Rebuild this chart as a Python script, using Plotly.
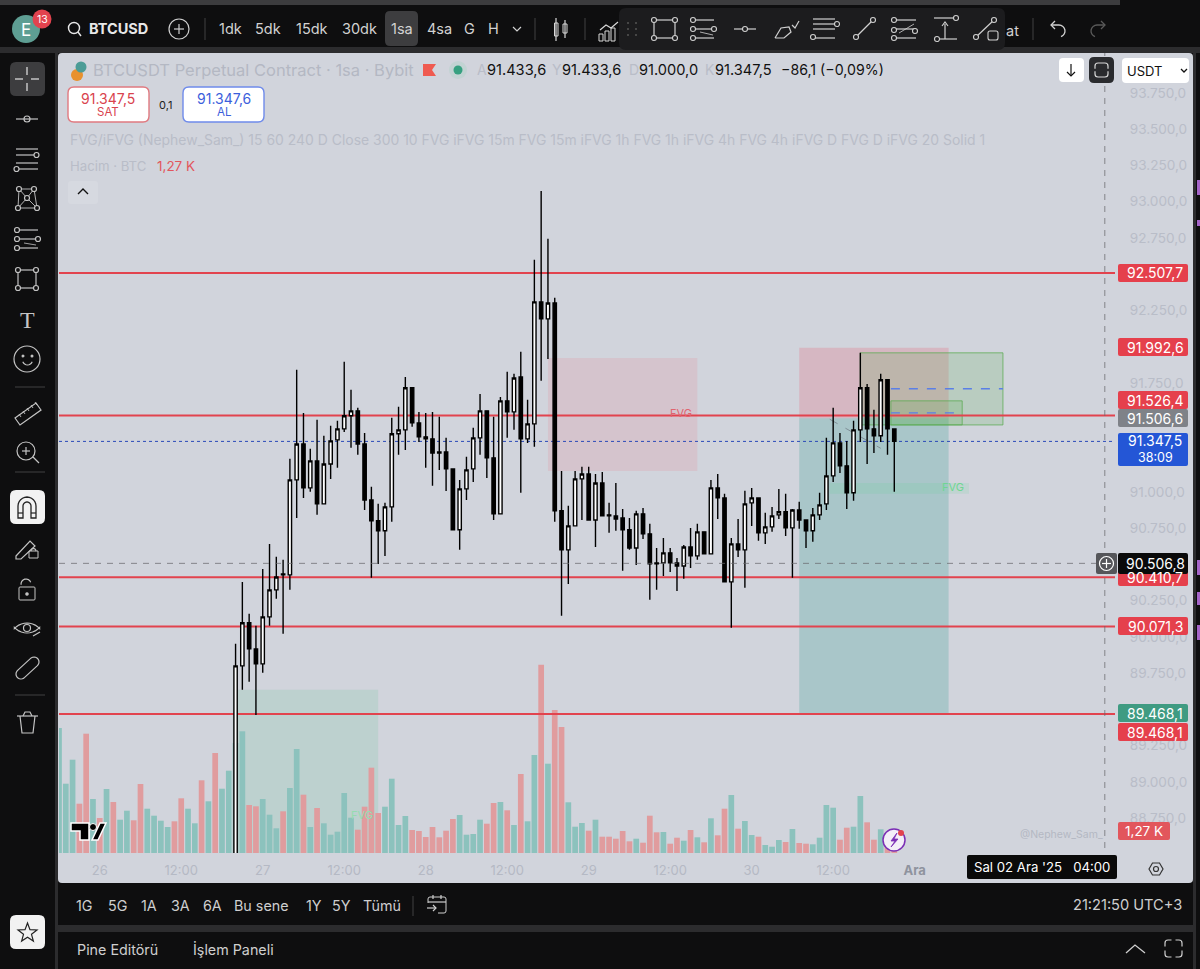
import math
import pandas as pd
import plotly.graph_objects as go

W = 1200
H = 969
BASE = pd.Timestamp("2025-11-26 00:00")

# hourly candles, first one is 26 Nov 20:00
candle_open = [
    88200, 89800, 90097, 89917, 89814, 90138, 90324, 90434, 90427, 91082,
    91330, 91027, 91213, 90917, 91192, 91358, 91434, 91524, 91558, 91330,
    90944, 90800, 90731, 90896, 91400, 91427, 91717, 91475, 91379, 91365,
    91275, 91275, 91158, 90738, 91020, 91158, 91372, 91558, 91234, 90848,
    91627, 91551, 91792, 91365, 91468, 92309, 92192, 92302, 90869, 90600,
    90765, 91089, 91123, 90806, 91061, 90841, 90834, 90820, 90738, 90613,
    90848, 90710, 90510, 90510, 90579, 90510, 90489, 90620, 90558, 90724,
    90572, 91027, 90958, 90379, 90641, 90600, 90924, 90958, 90717, 90758,
    90841, 90862, 90751, 90875, 90806, 90731, 90841, 90917, 91110, 91337,
    91179, 90993, 91427, 91717, 91434, 91386, 91772, 91433.6,
]
candle_high = [
    89952, 90379, 90159, 90076, 90468, 90641, 90552, 90531, 91227, 91841,
    91544, 91296, 91496, 91386, 91455, 91489, 91896, 91703, 91579, 91406,
    91034, 90917, 90924, 91510, 91586, 91792, 91717, 91551, 91544, 91551,
    91517, 91372, 91158, 91082, 91241, 91441, 91675, 91558, 91517, 91654,
    91827, 91813, 91965, 91634, 92599, 93074, 92744, 92337, 91144, 90903,
    91144, 91172, 91172, 91123, 91137, 90924, 91061, 90882, 90820, 90869,
    90889, 90779, 90613, 90682, 90613, 90544, 90634, 90751, 90779, 90724,
    91082, 91123, 90986, 90682, 90813, 91007, 91027, 90958, 90855, 90896,
    91020, 90986, 90882, 90931, 90806, 90889, 90993, 91372, 91579, 91406,
    91351, 91489, 91958, 91744, 91565, 91813, 91772, 91433.6,
]
candle_low = [
    88100, 89635, 89690, 89462, 89752, 90076, 90262, 90021, 90324, 90820,
    90958, 91000, 90841, 90917, 91089, 91165, 91413, 91303, 91255, 90875,
    90407, 90503, 90558, 90793, 91255, 91289, 91448, 91344, 91165, 91041,
    91151, 91006, 90738, 90600, 90944, 91068, 91255, 91096, 90806, 90848,
    91372, 91427, 90993, 91337, 91310, 91765, 91916, 90793, 90145, 90365,
    90765, 90806, 90806, 90620, 90834, 90717, 90731, 90455, 90600, 90496,
    90675, 90255, 90324, 90420, 90448, 90317, 90400, 90475, 90531, 90572,
    90572, 90813, 90379, 90062, 90551, 90338, 90765, 90662, 90641, 90724,
    90813, 90696, 90407, 90745, 90613, 90655, 90806, 90875, 91068, 91130,
    90882, 90938, 91344, 91192, 91268, 91344, 91255, 91000.0,
]
candle_close = [
    89800, 90097, 89917, 89814, 90138, 90324, 90413, 90427, 91082, 91330,
    91027, 91213, 90917, 91192, 91351, 91434, 91524, 91558, 91330, 90944,
    90800, 90731, 90896, 91400, 91427, 91717, 91475, 91379, 91365, 91268,
    91268, 91158, 90738, 91020, 91151, 91372, 91558, 91234, 90848, 91627,
    91551, 91785, 91365, 91468, 92309, 92192, 92302, 90869, 90600, 90765,
    91089, 91123, 90806, 91061, 90834, 90834, 90813, 90738, 90613, 90848,
    90710, 90503, 90503, 90579, 90510, 90489, 90620, 90558, 90724, 90572,
    91027, 90958, 90379, 90641, 90600, 90917, 90958, 90717, 90758, 90834,
    90862, 90751, 90875, 90806, 90731, 90841, 90910, 91110, 91337, 91179,
    90993, 91427, 91717, 91434, 91386, 91772, 91433.6, 91347.5,
]

# volume starts 6 hours before the 26th, bars before the first candle have their own direction
volume_btc = [
    12500, 6930, 9330, 4930, 11930, 5400, 3500, 6400, 5100, 3330,
    4230, 3270, 6900, 4430, 3730, 3230, 2600, 3170, 5470, 4430,
    2970, 7270, 5170, 10000, 6430, 8230, 11000, 12170, 4800, 4670,
    5400, 3830, 2470, 4170, 6500, 10400, 5830, 2600, 4500, 2970,
    1830, 2130, 6000, 3530, 2330, 4630, 8530, 4000, 4630, 7430,
    2800, 3700, 2300, 2200, 1600, 2600, 1570, 2230, 3400, 3800,
    1830, 1900, 3330, 2930, 5000, 5100, 4270, 2800, 7900, 3170,
    9800, 18830, 8930, 14300, 12600, 5070, 2630, 3000, 2230, 3330,
    1630, 1630, 1430, 2200, 1170, 1430, 1030, 3730, 2070, 2100,
    930, 1530, 1230, 2300, 1570, 1070, 3470, 1770, 4430, 5800,
    2430, 3200, 1800, 1630, 800, 630, 1300, 1100, 2400, 1000,
    930, 870, 1530, 4800, 4530, 1330, 2530, 2630, 5700, 3070,
    1330, 2370, 1800, 1270,
]
early_volume_up = [
    1, 1, 1, 0, 0, 1, 0, 1, 0, 1, 1, 0, 0,
    1, 1, 1, 1, 0, 0, 1, 1, 0, 1, 0, 1, 1,
]

level_prices = [92507.7, 91526.4, 90410.7, 90071.3, 89468.1]
last_price = 91347.5
cross_price = 90506.8
# the other round prices sit fully behind the coloured tags
price_ticks = [
    93750, 93500, 93250, 93000, 92750, 92250, 91750,
    91000, 90750, 90250, 90000, 89750, 89500, 89250, 89000, 88750,
]
time_tick_hours = [0, 12, 24, 36, 48, 60, 72, 84, 96, 108, 120]
time_tick_text = ["26", "12:00", "27", "12:00", "28", "12:00", "29", "12:00", "30", "12:00",
                  "<span style='color:#8f939e'><b>Ara</b></span>"]


def t(hour):
    return BASE + pd.Timedelta(hours=hour)


def tr_price(p):
    return f"{p:,.1f}".replace(",", "#").replace(".", ",").replace("#", ".")


def px(x):
    return x / W


def py(y):
    return 1 - y / H


shapes = []
notes = []


def rect(x0, y0, x1, y1, fill, line=None, lw=1, r=0, layer="above"):
    if r:
        a, b, c, d = px(x0), px(x1), py(y0), py(y1)
        rx, ry = r / W, r / H
        path = (f"M {a+rx} {c} L {b-rx} {c} Q {b} {c} {b} {c-ry} L {b} {d+ry} Q {b} {d} {b-rx} {d} "
                f"L {a+rx} {d} Q {a} {d} {a} {d+ry} L {a} {c-ry} Q {a} {c} {a+rx} {c} Z")
        shapes.append(dict(type="path", path=path, xref="paper", yref="paper", fillcolor=fill, layer=layer,
                           line=dict(color=line or "rgba(0,0,0,0)", width=lw if line else 0)))
    else:
        shapes.append(dict(type="rect", x0=px(x0), x1=px(x1), y0=py(y0), y1=py(y1), xref="paper", yref="paper",
                           fillcolor=fill, layer=layer,
                           line=dict(color=line or "rgba(0,0,0,0)", width=lw if line else 0)))


def seg(x0, y0, x1, y1, color="#c4c4c4", lw=1.2):
    shapes.append(dict(type="line", x0=px(x0), x1=px(x1), y0=py(y0), y1=py(y1), xref="paper", yref="paper",
                       line=dict(color=color, width=lw)))


def ring(cx, cy, r, color="#c4c4c4", lw=1.2, fill="rgba(0,0,0,0)"):
    shapes.append(dict(type="circle", x0=px(cx - r), x1=px(cx + r), y0=py(cy - r), y1=py(cy + r),
                       xref="paper", yref="paper", fillcolor=fill, line=dict(color=color, width=lw)))


def poly(points, color="#c4c4c4", lw=1.2, fill="rgba(0,0,0,0)", closed=False):
    path = "M " + " L ".join(f"{px(x)} {py(y)}" for x, y in points)
    if closed:
        path += " Z"
    shapes.append(dict(type="path", path=path, xref="paper", yref="paper", fillcolor=fill,
                       line=dict(color=color, width=lw)))


def arc(cx, cy, r, a0, a1, n=12):
    return [(cx + r * math.cos(math.radians(a0 + (a1 - a0) * i / n)),
             cy + r * math.sin(math.radians(a0 + (a1 - a0) * i / n))) for i in range(n + 1)]


def label(x, y, text, size=13, color="#ffffff", anchor="center", family="Inter"):
    notes.append(dict(x=px(x), y=py(y), xref="paper", yref="paper", text=text, showarrow=False,
                      xanchor=anchor, yanchor="middle", font=dict(size=size, color=color, family=family),
                      borderpad=0))


# ---- window frame
DARK = "#0e0e0f"
GAP = "#2c2c2e"
PANEL = "#d1d4dc"
rect(0, 0, 1200, 969, DARK, layer="below")
rect(0, 0, 1120, 5, "#3c3c3e", layer="below")
rect(0, 47, 1200, 53, GAP, layer="below")
rect(55, 47, 58, 969, GAP, layer="below")
rect(58, 925, 1193, 932, GAP, layer="below")
rect(1193, 53, 1196, 969, GAP, layer="below")
rect(58, 53, 1193, 883, PANEL, r=4, layer="below")
for y0, y1 in [(180, 195), (220, 226), (560, 575), (592, 605), (625, 640)]:
    rect(1197, y0, 1200, y1, "#a564c8", layer="below")

# ---- drawings on the chart, in time and price
DRAWINGS = [
    (66, 88, 91923, 91144, "rgba(232,130,145,0.19)", None),
    (103, 125, 91992.6, 91506.6, "rgba(236,70,90,0.20)", None),
    (103, 125, 91506.6, 89468.1, "rgba(0,137,123,0.19)", None),
    (112, 133, 91958, 91461, "rgba(90,175,80,0.20)", "rgba(90,170,80,0.75)"),
    (116.5, 127, 91627, 91461, "rgba(90,175,80,0.20)", "rgba(90,170,80,0.75)"),
    (107.5, 128, 91061, 90986, "rgba(70,210,130,0.12)", None),
    (19.6, 41, 89635, 88510, "rgba(70,190,130,0.14)", None),
]
for h0, h1, p0, p1, fill, edge in DRAWINGS:
    shapes.append(dict(type="rect", xref="x", yref="y3", x0=t(h0), x1=t(h1), y0=p0, y1=p1, fillcolor=fill,
                       layer="below", line=dict(color=edge or "rgba(0,0,0,0)", width=1 if edge else 0)))
for h0, h1, p in [(116.5, 133, 91710), (116.5, 126.5, 91544)]:
    shapes.append(dict(type="line", xref="x", yref="y3", x0=t(h0), x1=t(h1), y0=p, y1=p, layer="below",
                       line=dict(color="#5b7fe6", width=1.4, dash="dash")))
shapes.append(dict(type="line", xref="x", yref="y3", x0=t(107.5), x1=t(115), y0=91500, y1=91300, layer="below",
                   line=dict(color="rgba(110,120,130,0.7)", width=1, dash="dash")))

fig = go.Figure()

# volume goes on the lowest subplot so levels and candles sit above it
volume_up = early_volume_up + [int(c >= o) for o, c in zip(candle_open, candle_close)]
volume_times = pd.date_range(t(-6), periods=len(volume_btc), freq="h")
fig.add_trace(go.Bar(
    x=volume_times, y=volume_btc, yaxis="y", width=0.84 * 3600000, hoverinfo="skip",
    marker=dict(color=["#8cc2bd" if u else "#e09c9e" for u in volume_up], line=dict(width=0)),
))

# levels
edge_times = [t(-6), t(149.5)]
for p in level_prices:
    fig.add_trace(go.Scatter(x=edge_times, y=[p, p], yaxis="y2", mode="lines", hoverinfo="skip",
                             line=dict(color="#e2434e", width=2)))
fig.add_trace(go.Scatter(x=edge_times, y=[last_price, last_price], yaxis="y2", mode="lines", hoverinfo="skip",
                         line=dict(color="#2a49b8", width=1, dash="dot")))

candle_times = pd.date_range(t(20), periods=len(candle_open), freq="h")
fig.add_trace(go.Candlestick(
    x=candle_times, open=candle_open, high=candle_high, low=candle_low, close=candle_close,
    yaxis="y3", whiskerwidth=0, hoverinfo="skip",
    increasing=dict(line=dict(color="#000000", width=1.4), fillcolor="#ffffff"),
    decreasing=dict(line=dict(color="#000000", width=1.4), fillcolor="#000000"),
))

# crosshair
shapes.append(dict(type="line", xref="x", yref="y3", x0=edge_times[0], x1=edge_times[1], y0=cross_price,
                   y1=cross_price, line=dict(color="rgba(105,105,110,0.75)", width=1, dash="6px,6px")))
shapes.append(dict(type="line", xref="x", yref="paper", x0=t(148), x1=t(148), y0=py(848), y1=py(53),
                   line=dict(color="rgba(105,105,110,0.75)", width=1, dash="6px,6px")))

# FVG labels
label(681, 413, "FVG", 11, "#e0646f")
label(953, 487, "FVG", 11, "#6fd692")
label(362, 815, "FVG", 11, "#95dcb0")

# ---- price tags on the axis
TAGS = [
    (273, "92.507,7", "#e5404c"), (347, "91.992,6", "#e5404c"), (400, "91.526,4", "#e5404c"),
    (418, "91.506,6", "#7f8288"), (577, "90.410,7", "#e5404c"), (626, "90.071,3", "#e5404c"),
    (713, "89.468,1", "#3f9b82"), (732, "89.468,1", "#e5404c"),
]
for y, text, color in TAGS:
    rect(1118, y - 9, 1188, y + 9, color, r=2)
    label(1155, y, text, 14)
rect(1118, 433, 1188, 466, "#2456d6", r=2)
label(1155, 441, tr_price(last_price), 14)
label(1155, 457, "38:09", 12.5)
rect(1118, 553, 1188, 574, "#0a0a0a", r=2)
label(1155, 563.5, tr_price(cross_price), 14)
rect(1096, 553, 1117, 574, "#55565a", r=2)
ring(1106.5, 563.5, 7, "#ffffff")
seg(1102, 563.5, 1111, 563.5, "#ffffff")
seg(1106.5, 559, 1106.5, 568, "#ffffff")
rect(1118, 822, 1170, 840, "#e2565c", r=2)
label(1144, 831, "1,27 K", 13.5)
label(1061, 834, "@Nephew_Sam_", 10.5, "#b4b8c3")
rect(967, 855, 1117, 879, "#0a0a0a", r=2)
label(1042, 867, "Sal 02 Ara '25&nbsp;&nbsp;&nbsp;04:00", 13.2)

# gear under the axis
poly([(1149, 869), (1152.5, 863), (1159.5, 863), (1163, 869), (1159.5, 875), (1152.5, 875)], "#333333", closed=True)
ring(1156, 869, 2.5, "#333333")

# TradingView logo
logo = [[(71, 823), (89, 823), (89, 840), (80, 840), (80, 831), (71, 831)],
        [(92, 840), (100, 823), (106, 823), (98, 840)]]
for pts in logo:
    poly(pts, "#ffffff", 1.5, "#000000", closed=True)
ring(93, 827, 3.5, "#ffffff", 1, "#000000")

# lightning badge
ring(894, 840, 11, "#7b2fb5", 1.5, "#f3eef8")
poly([(897, 833), (891, 841), (895, 841), (891, 847), (898, 839), (894, 839)], "#7b2fb5", 0.8, "#7b2fb5", closed=True)
ring(901, 833, 3, "#e2434e", 0, "#e2434e")

# ---- legend block
label(92, 70, "BTCUSDT Perpetual Contract · 1sa · Bybit", 16.5, "#b4b8c3", "left")
ring(77, 75, 6, "#e8912d", 0, "#e8912d")
ring(81, 67, 5.5, "#4c9c96", 0, "#4c9c96")
poly([(423, 64), (436, 64), (432, 70), (436, 76), (423, 76)], "#ef5a50", 0, "#ef5a50", closed=True)
ring(458, 70, 9, "#c2d3d3", 0, "#c2d3d3")
ring(458, 70, 4.5, "#36a080", 0, "#36a080")
for x, letter, value_x, value in [(476, "A", 486, "91.433,6"), (551, "Y", 561, "91.433,6"),
                                  (628, "D", 638, "91.000,0"), (704, "K", 714, "91.347,5")]:
    label(x, 70, letter, 14, "#b9bdc8", "left")
    label(value_x, 70, value, 14.6, "#111111", "left")
label(780, 70, "−86,1 (−0,09%)", 14.2, "#111111", "left")

rect(68, 87, 149, 122, "#ffffff", "#e07a80", 1.4, r=6)
label(108, 98, "91.347,5", 14, "#d9434e")
label(108, 112, "SAT", 11.5, "#d9434e")
label(165, 105, "0,1", 11, "#222222")
rect(183, 87, 264, 122, "#ffffff", "#6f8bea", 1.4, r=6)
label(224, 98, "91.347,6", 14, "#3c5fdc")
label(224, 112, "AL", 11.5, "#3c5fdc")
label(69, 140, "FVG/iFVG (Nephew_Sam_) 15 60 240 D Close 300 10 FVG iFVG 15m FVG 15m iFVG 1h FVG 1h iFVG "
               "4h FVG 4h iFVG D FVG D iFVG 20 Solid 1", 13.95, "#b9bdc8", "left")
label(69, 166, "Hacim · BTC", 13.2, "#b9bdc8", "left")
label(156, 166, "1,27 K", 13.5, "#e2565c", "left")
rect(68, 181, 98, 204, "rgba(255,255,255,0.12)", r=3)
poly([(78, 194), (83, 189), (88, 194)], "#111111", 1.4)

# buttons top right of the chart
rect(1059, 58, 1084, 82, "#ffffff", r=4)
seg(1071, 64, 1071, 76, "#111111")
poly([(1067, 72), (1071, 76), (1075, 72)], "#111111")
rect(1089, 57, 1114, 83, "#2a2b2e", r=5)
rect(1095, 63, 1108, 77, "rgba(0,0,0,0)", "#d8d8d8", 1.2, r=3)
seg(1093, 70, 1110, 70, "#2a2b2e", 2.5)
rect(1122, 58, 1189, 83, "#ffffff", r=4)
label(1126, 71, "USDT", 13, "#111111", "left")
poly([(1181, 69), (1184, 72), (1187, 69)], "#111111", 1.3)

# ---- top bar
ring(26, 29, 14, "#5e9e93", 0, "#5e9e93")
label(26, 30, "E", 17, "#ffffff")
ring(42, 19, 9.5, "#e2434e", 0, "#e2434e")
label(42, 19, "13", 10.5, "#ffffff")
ring(74, 28, 5.5, "#e8e8e8", 1.4)
seg(78, 32, 81, 36, "#e8e8e8", 1.4)
label(88, 29, "<b>BTCUSD</b>", 14.5, "#e8e8e8", "left")
ring(179, 29, 10, "#cfcfcf")
seg(174, 29, 184, 29, "#cfcfcf")
seg(179, 24, 179, 34, "#cfcfcf")
seg(205, 18, 205, 40, "#3a3a3a")
rect(385, 11, 418, 46, "#3d3d3f", r=5)
for x, text in [(230, "1dk"), (268, "5dk"), (312, "15dk"), (359, "30dk"), (402, "1sa"), (439, "4sa"),
                (469, "G"), (493, "H")]:
    label(x, 29, text, 14.5, "#d2d2d2")
poly([(513, 27), (517, 31), (521, 27)], "#d2d2d2")
seg(535, 18, 535, 40, "#3a3a3a")
rect(554.5, 23, 558, 36, "rgba(0,0,0,0)", "#d8d8d8")
seg(556, 18, 556, 41, "#d8d8d8")
rect(563, 24, 567, 33, "rgba(0,0,0,0)", "#d8d8d8")
seg(565, 20, 565, 38, "#d8d8d8")
seg(585, 18, 585, 40, "#3a3a3a")
poly([(600, 30), (606, 25), (611, 28), (618, 22)], "#d8d8d8")
for x, y in [(601, 34), (607, 31), (613, 28)]:
    rect(x - 2, y, x + 2, 41, "rgba(0,0,0,0)", "#d8d8d8")
label(1005, 30, "at", 14.5, "#d2d2d2", "left")
seg(1033, 18, 1033, 40, "#3a3a3a")
# undo and redo
poly([(1051, 25)] + arc(1059, 31, 6, -90, 70, 8), "#d2d2d2", 1.3)
poly([(1055, 21), (1051, 25), (1055, 29)], "#d2d2d2", 1.3)
poly(arc(1097, 31, 6, 110, 270, 8) + [(1105, 25)], "#5a5a5a", 1.3)
poly([(1101, 21), (1105, 25), (1101, 29)], "#5a5a5a", 1.3)

# floating drawing toolbar
rect(619, 8, 1005, 50, "#1c1c1e", r=7)
for x in (628, 636):
    for y in (23, 29, 35):
        ring(x, y, 1, "#555555", 0, "#555555")
IC = "#d0d0d0"


def knobs(points):
    for x, y in points:
        ring(x, y, 2.5, IC, 1.1, "#1c1c1e")


seg(654, 20, 654, 38, IC)
seg(675, 20, 675, 38, IC)
seg(654, 20, 675, 20, IC)
seg(654, 38, 675, 38, IC)
knobs([(654, 20), (675, 20), (654, 38), (675, 38)])
for y in (20, 29, 38):
    seg(693, y, 714, y, IC)
seg(700, 32, 713, 35, IC, 0.8)
knobs([(693, 20), (714, 29), (693, 38), (693, 29)])
seg(734, 29, 756, 29, IC)
knobs([(745, 29)])
poly([(775, 38), (781, 28), (789, 27), (791, 32), (784, 38), (775, 38)], IC)
poly([(792, 25), (795, 28), (799, 21)], IC)
for y in (19, 29, 38):
    seg(813, y, 835, y, IC)
seg(813, 24, 835, 24, IC)
knobs([(837, 24), (813, 37)])
seg(856, 37, 873, 20, IC)
knobs([(856, 37), (873, 20)])
for y in (20, 29, 38):
    seg(893, y, 916, y, IC)
seg(899, 33, 914, 24, IC, 0.8)
knobs([(894, 20), (915, 31), (894, 38), (894, 30)])
seg(934, 18, 956, 18, IC)
seg(937, 39, 957, 39, IC)
seg(945, 24, 945, 39, IC)
poly([(942, 26), (945, 22), (948, 26)], IC)
knobs([(956, 18), (937, 39)])
seg(976, 37, 994, 20, IC)
knobs([(976, 37), (994, 20)])
rect(988, 31, 998, 40, "#1c1c1e", IC, 1.1, r=2)

# ---- left toolbar
rect(10, 62, 45, 96, "#3d3d3f", r=6)
seg(15, 79, 23, 79, "#e6e6e6")
seg(31, 79, 39, 79, "#e6e6e6")
seg(27, 67, 27, 75, "#e6e6e6")
seg(27, 83, 27, 91, "#e6e6e6")
seg(16, 119, 38, 119)
ring(27, 119, 3)
for y, a, b in [(149, 16, 38), (155, 16, 34), (163, 16, 38), (169, 19, 38)]:
    seg(a, y, b, y)
ring(36.5, 155, 2.5, fill=DARK)
ring(16.5, 169, 2.5, fill=DARK)
net = [(19, 189), (34, 189), (27, 198), (18, 208), (37, 208)]
for a, b in [(0, 3), (0, 2), (1, 2), (1, 4), (2, 3), (2, 4), (3, 4), (0, 1)]:
    seg(*net[a], *net[b], lw=0.9)
for x, y in net:
    ring(x, y, 2.5, fill=DARK)
for y in (230, 239, 248):
    seg(17, y, 38, y)
seg(24, 243, 36, 245, lw=0.8)
for x, y in [(17, 230), (38, 239), (17, 248), (17, 239)]:
    ring(x, y, 2.5, fill=DARK)
for a, b in [((18, 270), (36, 270)), ((36, 270), (36, 288)), ((36, 288), (18, 288)), ((18, 288), (18, 270))]:
    seg(*a, *b)
for x, y in [(18, 270), (36, 270), (18, 288), (36, 288)]:
    ring(x, y, 2.5, fill=DARK)
label(27, 320, "T", 24, "#c4c4c4", family="Liberation Serif")
ring(27, 359, 13)
ring(23, 356, 0.9, fill="#c4c4c4")
ring(32, 356, 0.9, fill="#c4c4c4")
poly(arc(27.5, 360, 5, 20, 160, 8))
seg(15, 387, 45, 387, "#3a3a3a")
poly([(15, 418), (36, 403), (41, 410), (20, 425)], closed=True)
for i in range(5):
    seg(19 + 4 * i, 414 - 3 * i, 21 + 4 * i, 417 - 3 * i, lw=0.9)
ring(26, 451, 9)
seg(22, 451, 30, 451)
seg(26, 447, 26, 455)
seg(33, 457, 39, 463)
seg(15, 472, 45, 472, "#3a3a3a")
rect(10, 490, 45, 524, "#f2f2f2", r=6)
poly(arc(27, 506, 9, 180, 360) + [(36, 518), (31, 518)] + arc(27, 506, 4, 360, 180) + [(23, 518), (18, 518)],
     "#222222", 1.3, closed=True)
seg(18, 513, 23, 513, "#222222")
seg(31, 513, 36, 513, "#222222")
poly([(16, 556), (30, 541), (35, 546), (21, 559), (16, 559)], closed=True)
rect(29, 551, 38, 558, "rgba(0,0,0,0)", "#c4c4c4")
poly(arc(33.5, 551, 2.5, 180, 360, 6))
rect(19, 587, 35, 600, "rgba(0,0,0,0)", "#c4c4c4", r=1)
poly(arc(26, 584, 5, 170, 340, 8))
ring(27, 594, 1.2, fill="#c4c4c4")
poly(arc(27, 640, 17, 222, 318, 10) + arc(27, 616, 17, 42, 138, 10), closed=True)
ring(27, 628, 3.5)
seg(33, 636, 40, 632)
capsule = arc(21, 674, 5, 55, 235, 10) + arc(34, 662, 5, 235, 415, 10)
poly(capsule, closed=True)
seg(15, 695, 45, 695, "#3a3a3a")
poly([(20, 716), (22, 733), (33, 733), (35, 716)])
seg(17, 716, 38, 716)
poly([(23, 716), (25, 712), (30, 712), (32, 716)])
rect(10, 915, 45, 949, "#f2f2f2", r=6)
star = []
for i in range(10):
    rad = 10 if i % 2 == 0 else 4.2
    ang = -90 + 36 * i
    star.append((27.5 + rad * math.cos(math.radians(ang)), 933 + rad * math.sin(math.radians(ang))))
poly(star, "#222222", 1.2, closed=True)

# ---- bottom bars
for x, text in [(84, "1G"), (117, "5G"), (149, "1A"), (180, "3A"), (212, "6A"), (261, "Bu sene"),
                (314, "1Y"), (342, "5Y"), (382, "Tümü")]:
    label(x, 905, text, 14.3, "#cfcfcf")
seg(413, 896, 413, 916, "#3a3a3a")
rect(428, 897, 446, 913, "rgba(0,0,0,0)", "#cfcfcf", r=2)
rect(426, 903, 438, 915, DARK)
seg(428, 902, 446, 902, "#cfcfcf")
seg(433, 895, 433, 899, "#cfcfcf")
seg(441, 895, 441, 899, "#cfcfcf")
seg(427, 908, 436, 908, "#cfcfcf")
poly([(433, 905), (436, 908), (433, 911)], "#cfcfcf")
label(1183, 905, "21:21:50 UTC+3", 14.6, "#cfcfcf", "right")
label(76, 949, "Pine Editörü", 14.3, "#cfcfcf", "left")
label(192, 949, "İşlem Paneli", 14.3, "#cfcfcf", "left")
poly([(1126, 953), (1135, 945), (1145, 953)], "#cfcfcf", 1.3)
rect(1165, 940, 1182, 957, "rgba(0,0,0,0)", "#cfcfcf", 1.2, r=3)
seg(1161, 948.5, 1186, 948.5, DARK, 4)
seg(1173.5, 936, 1173.5, 961, DARK, 4)

top = py(53)
bottom = py(853)
left = px(59)
right = px(1115)
fig.update_layout(
    width=W,
    height=H,
    margin=dict(l=0, r=0, t=0, b=0),
    showlegend=False,
    paper_bgcolor=DARK,
    plot_bgcolor="rgba(0,0,0,0)",
    shapes=shapes,
    annotations=notes,
    font=dict(family="Inter"),
    xaxis=dict(
        domain=[left, right], range=[t(-6), t(149.5)], type="date", anchor="y", showgrid=False, zeroline=False,
        rangeslider=dict(visible=False), tickmode="array", tickvals=[t(h) for h in time_tick_hours],
        ticktext=time_tick_text, ticks="outside", ticklen=5, tickcolor="rgba(0,0,0,0)", showline=False,
        tickfont=dict(size=13, color="#b5b9c4", family="Inter"),
    ),
    yaxis=dict(domain=[bottom, top], range=[0, 80000], visible=False, fixedrange=True),
    yaxis2=dict(domain=[bottom, top], range=[88510, 94025], overlaying="y", visible=False),
    yaxis3=dict(
        domain=[bottom, top], range=[88510, 94025], overlaying="y", side="right", anchor="free", position=right,
        showgrid=False, zeroline=False, showline=False, tickmode="array", tickvals=price_ticks,
        ticktext=[tr_price(p) for p in price_ticks], ticks="outside", ticklen=11, tickcolor="rgba(0,0,0,0)",
        tickfont=dict(size=13.6, color="#b9bdc8", family="Inter"),
    ),
)

fig.write_html(
    "out.html",
    config=dict(displayModeBar=False),
    post_script="document.body.style.margin='0';document.documentElement.style.overflow='hidden';",
)
